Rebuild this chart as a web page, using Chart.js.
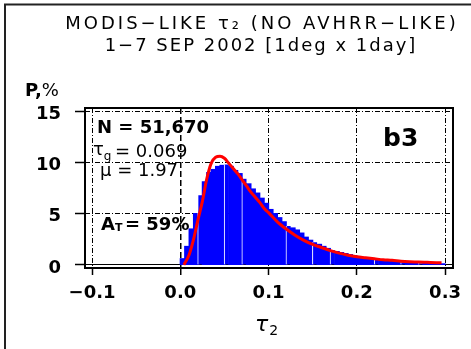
<!DOCTYPE html>
<html>
<head>
<meta charset="utf-8">
<script src="https://cdn.jsdelivr.net/npm/chart.js@4.4.0/dist/chart.umd.min.js"></script>
<style>
  html, body { margin: 0; padding: 0; background: #fff; }
  #wrap { width: 471px; height: 349px; position: relative; }
</style>
</head>
<body>
<div id="wrap"><canvas id="c"></canvas></div>
<script>
// Histogram bins of tau (bin centers, width 0.005)
const tauBins = [
  0.0025, 0.0075, 0.0125, 0.0175, 0.0225, 0.0275, 0.0325, 0.0375, 0.0425, 0.0475,
  0.0525, 0.0575, 0.0625, 0.0675, 0.0725, 0.0775, 0.0825, 0.0875, 0.0925, 0.0975,
  0.1025, 0.1075, 0.1125, 0.1175, 0.1225, 0.1275, 0.1325, 0.1375, 0.1425, 0.1475,
  0.1525, 0.1575, 0.1625, 0.1675, 0.1725, 0.1775, 0.1825, 0.1875, 0.1925, 0.1975,
  0.2025, 0.2075, 0.2125, 0.2175, 0.2225, 0.2275, 0.2325, 0.2375, 0.2425, 0.2475,
  0.2525, 0.2575, 0.2625, 0.2675, 0.2725, 0.2775, 0.2825, 0.2875, 0.2925, 0.2975
];
// Frequency, %
const freqPct = [
  0.6, 1.8, 3.5, 5.0, 6.8, 8.1, 9.0, 9.3, 9.6, 9.7,
  9.8, 9.6, 9.2, 8.9, 8.4, 7.9, 7.4, 7.0, 6.5, 6.0,
  5.4, 5.0, 4.6, 4.2, 3.8, 3.6, 3.4, 3.1, 2.7, 2.4,
  2.2, 2.0, 1.8, 1.6, 1.45, 1.3, 1.2, 1.1, 1.0, 0.9,
  0.75, 0.7, 0.6, 0.55, 0.5, 0.45, 0.4, 0.35, 0.32, 0.3,
  0.25, 0.22, 0.2, 0.18, 0.16, 0.15, 0.13, 0.12, 0.1, 0.1
];
// Fitted distribution curve
const fitTau = [
  0.004, 0.01, 0.015, 0.02, 0.025, 0.03, 0.035, 0.04, 0.045, 0.05,
  0.055, 0.06, 0.065, 0.07, 0.075, 0.08, 0.085, 0.09, 0.095, 0.1,
  0.11, 0.12, 0.13, 0.14, 0.15, 0.16, 0.17, 0.18, 0.19, 0.2,
  0.21, 0.22, 0.23, 0.24, 0.25, 0.26, 0.27, 0.28, 0.29, 0.296
];
const fitPct = [
  0, 1.0, 2.5, 4.4, 6.2, 8.4, 9.9, 10.5, 10.6, 10.4,
  9.9, 9.4, 8.9, 8.3, 7.7, 7.1, 6.6, 6.1, 5.5, 5.1,
  4.2, 3.5, 2.9, 2.4, 2.0, 1.7, 1.4, 1.15, 0.95, 0.8,
  0.7, 0.6, 0.5, 0.45, 0.35, 0.3, 0.28, 0.25, 0.22, 0.2
];
const xTickValues = [-0.1, 0, 0.1, 0.2, 0.3];
const xTickLabels = ['\u22120.1', '0.0', '0.1', '0.2', '0.3'];
const yTickValues = [0, 5, 10, 15];
const yTickLabels = ['0', '5', '10', '15'];
const titleLines = ['MODIS\u2212LIKE \u03c4\u2082 (NO AVHRR\u2212LIKE)', '1\u22127 SEP 2002 [1deg x 1day]'];

const FONT = '"DejaVu Sans", "Liberation Sans", sans-serif';

function txt(ctx, s, x, y, font, align, baseline, spacing) {
  ctx.save();
  ctx.font = font;
  ctx.fillStyle = '#000';
  ctx.textAlign = align || 'left';
  ctx.textBaseline = baseline || 'middle';
  if (spacing) ctx.letterSpacing = spacing;
  ctx.fillText(s, x, y);
  const w = ctx.measureText(s).width;
  ctx.restore();
  return w;
}

const decorations = {
  id: 'decorations',
  beforeDatasetsDraw(chart) {
    const ctx = chart.ctx;
    // statistics block inside the plot
    txt(ctx, 'N = 51,670', 97, 128, 'bold 18px ' + FONT);
    let w = txt(ctx, '\u03c4', 93, 150, '18px ' + FONT);
    txt(ctx, 'g', 93 + w, 157, '12px ' + FONT);
    txt(ctx, '= 0.069', 115, 152, '18px ' + FONT);
    txt(ctx, '\u03bc = 1.97', 100, 171, '18px ' + FONT);
    w = txt(ctx, 'A', 101, 225, 'bold 18px ' + FONT);
    txt(ctx, 'T', 101 + w, 228, 'bold 11px ' + FONT);
    txt(ctx, '= 59%', 125, 225, 'bold 18px ' + FONT);
    txt(ctx, 'b3', 383, 146, 'bold 25px ' + FONT, 'left', 'alphabetic');
  },
  afterDraw(chart) {
    const ctx = chart.ctx;
    const a = chart.chartArea;
    ctx.save();
    ctx.strokeStyle = '#000';
    ctx.lineWidth = 2;
    ctx.strokeRect(a.left, a.top, a.right - a.left, a.bottom - a.top);
    // outer frame
    ctx.strokeStyle = '#222';
    ctx.beginPath();
    ctx.moveTo(5, 349);
    ctx.lineTo(5, 4.5);
    ctx.lineTo(471, 4.5);
    ctx.stroke();
    ctx.restore();
    // titles
    txt(ctx, titleLines[0], 262, 24, '18px ' + FONT, 'center', 'middle', '3px');
    txt(ctx, titleLines[1], 261, 46, '18px ' + FONT, 'center', 'middle', '2px');
    // y-axis label
    const w = txt(ctx, 'P,', 25, 91, 'bold 18px ' + FONT);
    txt(ctx, '%', 25 + w, 91, '18px ' + FONT);
    // x-axis label
    const wt = txt(ctx, '\u03c4', 255, 325, 'italic 22px ' + FONT);
    txt(ctx, '2', 256 + wt, 331, '14px ' + FONT);
  }
};

new Chart(document.getElementById('c'), {
  type: 'bar',
  data: {
    datasets: [
      {
        type: 'line',
        data: fitTau.map((x, i) => ({ x, y: fitPct[i] })),
        borderColor: '#ff0000',
        borderWidth: 3,
        pointRadius: 0,
        cubicInterpolationMode: 'monotone',
        order: 0
      },
      {
        type: 'bar',
        data: tauBins.map((x, i) => ({ x, y: freqPct[i] })),
        backgroundColor: '#0000ff',
        borderColor: '#ffffff',
        // thin light separators that show up inside the bar fill
        borderWidth: c => ([4, 10, 14].includes(c.dataIndex % 20) ? { left: 1, right: 0, top: 0, bottom: 0 } : 0),
        borderSkipped: false,
        inflateAmount: 0.6,
        barPercentage: 1,
        categoryPercentage: 1,
        order: 1
      }
    ]
  },
  options: {
    responsive: true,
    maintainAspectRatio: false,
    animation: false,
    events: [],
    layout: { padding: { top: 108, right: 18, left: 0, bottom: 0 } },
    plugins: { legend: { display: false }, tooltip: { enabled: false } },
    scales: {
      x: {
        type: 'linear',
        min: -0.108,
        max: 0.309,
        offset: false,
        z: 1,
        afterFit: s => { s.height = 81; },
        afterBuildTicks: s => { s.ticks = xTickValues.map(v => ({ value: v })); },
        ticks: {
          padding: 8,
          color: '#000',
          font: { family: FONT, size: 18, weight: 'bold' },
          callback: (v) => xTickLabels[xTickValues.indexOf(v)] ?? ''
        },
        grid: {
          offset: false,
          color: '#000',
          lineWidth: c => (c.tick && c.tick.value === 0 ? 1.5 : 1),
          tickLength: 7,
          tickColor: '#000',
          tickWidth: 1.5,
          tickBorderDash: []
        },
        border: {
          display: false,
          dash: c => (c.tick && c.tick.value === 0 ? [6, 3] : [5, 2, 1, 2])
        }
      },
      y: {
        min: -0.3,
        max: 15.3,
        afterFit: s => { s.width = 85; },
        afterBuildTicks: s => { s.ticks = yTickValues.map(v => ({ value: v })); },
        ticks: {
          padding: 14,
          labelOffset: 3,
          color: '#000',
          font: { family: FONT, size: 18, weight: 'bold' },
          callback: (v) => yTickLabels[yTickValues.indexOf(v)] ?? ''
        },
        grid: {
          color: '#000',
          lineWidth: 1,
          tickLength: 10,
          tickColor: '#000',
          tickWidth: 1.5,
          tickBorderDash: []
        },
        border: {
          display: false,
          dash: c => (c.tick && c.tick.value === 0 ? [] : [5, 2, 1, 2])
        }
      }
    }
  },
  plugins: [decorations]
});
</script>
</body>
</html>
